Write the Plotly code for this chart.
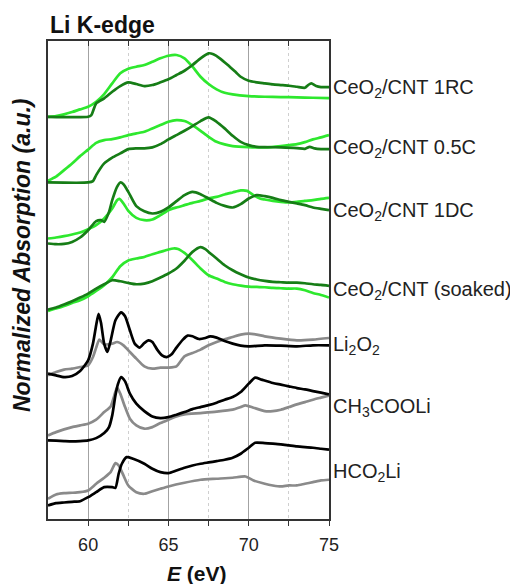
import plotly.graph_objects as go

# ---------------- data (E in eV, absorption in a.u. incl. vertical offsets) ----------------
E_1RC_dk = [57.5, 60.0, 60.2, 60.5, 61, 61.5, 62, 62.5, 63, 63.5, 64, 64.5, 65, 65.5, 66, 66.5, 67, 67.5, 67.8, 68.2,
            68.7, 69.2, 69.5, 70, 70.5, 71, 71.5, 72, 72.5, 73, 73.5, 73.7, 73.9, 74.2, 74.5, 75]
A_1RC_dk = [401.8, 401.8, 403.5, 415.2, 420.2, 426.8, 432.5, 436.2, 434.5, 432.5, 433.5, 436.2, 439.2, 443.5, 447.8,
            453.5, 460.2, 465.2, 464.2, 460.2, 453.5, 446.2, 441.8, 437.8, 436.2, 435.2, 434.2, 433.5, 432.8, 431.8,
            430.8, 433.5, 435.2, 432.5, 431.5, 431.5]

E_1RC_lt = [57.5, 58, 58.5, 59, 59.5, 60, 60.5, 61, 61.5, 62, 62.5, 63, 63.5, 64, 64.5, 65, 65.5, 66, 66.5, 67, 67.5,
            68, 68.5, 69, 70, 71, 72, 73, 74, 75]
A_1RC_lt = [401.8, 402.5, 404.2, 406.5, 409.2, 411.8, 416.8, 424.5, 435.2, 445.2, 449.8, 451.8, 453.5, 456.8, 460.2,
            462.8, 463.5, 460.2, 451.8, 441.8, 434.5, 429.2, 425.8, 424.2, 422.5, 421.8, 421.5, 421.2, 420.8, 420.5]

E_05C_dk = [57.5, 60, 60.3, 60.5, 61, 61.5, 62, 62.5, 63, 63.5, 64, 64.5, 65, 65.5, 66, 66.5, 67, 67.5, 68, 68.5, 69,
            69.5, 70, 70.5, 71, 72, 73, 73.5, 73.8, 74.1, 74.5, 75]
A_05C_dk = [336.2, 336.2, 337.5, 343.5, 355.2, 361, 365.2, 369.5, 370.2, 370.2, 371.2, 374.5, 379.2, 383.5, 387.8,
            392.5, 397.5, 401.2, 396.8, 390.2, 382.8, 376.8, 373.5, 371.8, 371.5, 371.2, 370.5, 369.8, 371.8, 370.2,
            369.5, 369.5]

E_05C_lt = [57.5, 58, 58.5, 59, 59.5, 60, 60.5, 61, 61.5, 62, 62.5, 63, 63.5, 64, 64.5, 65, 65.5, 66, 66.5, 67, 67.5,
            68, 68.5, 69, 70, 71, 72, 72.5, 73, 73.5, 74, 74.5, 75]
A_05C_lt = [338, 342, 348.5, 355.2, 362.5, 369, 375.8, 378.5, 379.5, 381.2, 383.5, 385.2, 386.8, 390.2, 393.5, 396.8,
            398.5, 397.5, 393.5, 387.8, 381.8, 376.8, 374.2, 372.5, 371.5, 371.2, 372.5, 373.5, 374.5, 376.5, 379.2,
            381.2, 383.5]

E_1DC_dk = [57.5, 58, 58.5, 59, 59.5, 60, 60.5, 60.8, 61, 61.3, 61.5, 61.8, 62, 62.2, 62.5, 63, 63.5, 64, 64.5, 65,
            65.5, 66, 66.5, 67, 67.5, 68, 68.5, 69, 69.5, 70, 70.5, 71, 71.5, 72, 72.5, 73, 73.5, 74, 74.5, 75]
A_1DC_dk = [275.2, 274.5, 274.8, 276.8, 281.2, 288.5, 297.5, 298.5, 296.8, 306.8, 318.5, 331.8, 336.2, 334.5, 326.8,
            312.5, 307.5, 305.2, 306.8, 311.2, 317.5, 323.5, 326.8, 324.5, 320.2, 315.8, 312.8, 311.2, 314.5, 320.2,
            323.5, 322.5, 320.8, 318.5, 316.8, 315.2, 313.5, 311.2, 309.8, 308.5]

E_1DC_lt = [57.5, 58, 58.5, 59, 59.5, 60, 60.5, 61, 61.5, 61.8, 61.95, 62.2, 62.5, 63, 63.5, 64, 64.5, 65, 65.5, 66,
            66.5, 67, 67.5, 68, 68.5, 69, 69.5, 69.9, 70.3, 70.7, 71, 71.5, 72, 72.5, 73, 73.5, 74, 74.5, 75]
A_1DC_lt = [280.2, 281.2, 282.5, 284.2, 286.2, 289.5, 293.5, 300.2, 310.2, 318.5, 319.8, 315.2, 307.8, 300.8, 298.5,
            299.2, 303.5, 308.5, 311.2, 313.5, 315.8, 317.8, 320.2, 321.8, 324.2, 326.2, 328.2, 327.8, 323.5, 320.2,
            319.2, 317.8, 316.8, 316.2, 316.8, 317.8, 318.5, 319.8, 320.8]

E_soak_dk = [57.5, 58, 58.5, 59, 59.5, 60, 60.5, 61, 61.5, 62, 62.5, 63, 63.5, 64, 64.5, 65, 65.5, 66, 66.5, 67, 67.3,
             67.5, 68, 68.5, 69, 69.5, 70, 70.5, 71, 71.5, 72, 72.5, 73, 73.5, 74, 74.5, 75]
A_soak_dk = [209.2, 211.2, 214.2, 217.5, 221.2, 225.2, 230.2, 234.5, 238.5, 237.5, 235.8, 234.5, 235.2, 237.5, 241.2,
             245.2, 250.2, 258, 266.8, 271.5, 269.5, 266.8, 260.2, 253.5, 248.5, 244.5, 241.2, 239.2, 237.8, 236.8,
             236.5, 236.2, 236.2, 235.5, 234.5, 233.8, 232.8]

E_soak_lt = [57.5, 58, 58.5, 59, 59.5, 60, 60.5, 61, 61.5, 62, 62.5, 63, 63.5, 64, 64.5, 65, 65.3, 65.6, 66, 66.5, 67,
             67.5, 68, 68.5, 69, 69.5, 70, 70.5, 71, 71.5, 72, 72.5, 73, 73.5, 74, 74.5, 75]
A_soak_lt = [207.8, 210.2, 212.8, 215.8, 218.5, 222.5, 227.8, 233.5, 241.5, 252.5, 258.2, 260.2, 261.8, 264.5, 266.8,
             269.2, 270.2, 269.8, 265.8, 258.5, 250.2, 243.5, 240.2, 236.8, 234.5, 233.2, 232.2, 231.8, 231.5, 230.8,
             230.5, 230.2, 230.2, 228.5, 225.8, 223.8, 221.2]

E_Li2O2_bk = [57.5, 58, 58.5, 59, 59.5, 60, 60.3, 60.5, 60.65, 60.8, 61, 61.2, 61.4, 61.7, 62.05, 62.3, 62.6, 62.9,
              63.2, 63.5, 63.75, 64, 64.3, 64.6, 64.9, 65.2, 65.5, 65.9, 66.2, 66.5, 66.9, 67.3, 67.6, 68, 68.5, 69,
              69.5, 70, 71, 72, 73, 74, 75]
A_Li2O2_bk = [145.2, 143.5, 141.8, 142.8, 147.8, 158.5, 175.2, 193.5, 205.0, 196.0, 175.0, 167.0, 178.0, 198.5, 206.5,
              202.5, 188.5, 175.2, 171.2, 175.8, 178.5, 176.8, 169.2, 163.5, 161.8, 164.5, 171.2, 179.2, 183.2, 182.5,
              179.8, 180.8, 182.5, 181.2, 177.8, 175.2, 173.2, 172.5, 173.5, 173.2, 172.5, 173.5, 173.5]

E_Li2O2_gy = [57.5, 58, 58.5, 59, 59.5, 60, 60.3, 60.5, 60.7, 61, 61.5, 61.8, 62.2, 62.6, 63, 63.5, 64, 64.5, 65, 65.5,
              66, 66.5, 67, 67.5, 68, 68.5, 69, 69.5, 70, 70.5, 71, 72, 73, 74, 75]
A_Li2O2_gy = [143.5, 146.8, 149.2, 150.2, 151.8, 153.5, 161.8, 171.2, 179.2, 174.5, 175.2, 176.8, 173.5, 166.8, 160.2,
              152.5, 150.2, 151.2, 151.2, 152.5, 162.5, 165.8, 169.2, 173.5, 176.8, 179.5, 181.8, 184.2, 185.2, 184.2,
              182.5, 180.2, 178.5, 179.2, 180.8]

E_ac_bk = [57.5, 58, 58.5, 59, 59.5, 60, 60.5, 61, 61.3, 61.5, 61.7, 61.85, 62.05, 62.3, 62.6, 63, 63.5, 64, 64.5, 65,
           65.5, 66, 66.5, 67, 67.5, 68, 68.5, 69, 69.5, 70, 70.4, 70.8, 71.5, 72, 72.5, 73, 73.5, 74, 74.5, 75]
A_ac_bk = [78.5, 78.2, 77.8, 77.5, 77.8, 78.5, 80.8, 85.8, 91.8, 103.5, 123.5, 134.5, 141.8, 137.5, 125.2, 115.2,
           107.8, 102.5, 100.8, 101.8, 104.2, 106.8, 109.8, 111.8, 113.8, 116.2, 119.2, 121.8, 126.8, 135.2, 141.2,
           139.2, 135.8, 134.2, 132.5, 130.8, 129.5, 127.8, 126.2, 124.5]

E_ac_gy = [57.5, 58, 58.5, 59, 59.5, 60, 60.5, 61, 61.4, 61.6, 61.8, 62.0, 62.3, 62.6, 63, 63.5, 64, 64.5, 65, 65.5,
           66, 67, 68, 69, 69.5, 69.8, 70.3, 71, 71.5, 72, 72.5, 73, 73.5, 74, 74.5, 75]
A_ac_gy = [83.5, 86.8, 89.5, 91.8, 93.5, 95.2, 99.2, 106.8, 112.5, 121.8, 131.2, 125.2, 111.8, 100.2, 93.5, 90.2, 91.8,
           95.8, 99.2, 102.5, 104.5, 105.8, 107.2, 109.2, 111.8, 113.5, 111.2, 107.8, 107.8, 109.2, 111.8, 114.5,
           116.8, 119.2, 121.2, 123.2]

E_fo_bk = [57.5, 58, 58.5, 59, 59.5, 60, 60.5, 61, 61.5, 61.7, 61.9, 62.1, 62.4, 62.8, 63.5, 64, 64.5, 65, 65.5, 66,
           66.5, 67, 67.5, 68, 68.5, 69, 69.5, 70, 70.4, 71, 71.5, 72, 72.5, 73, 73.5, 74, 74.5, 75]
A_fo_bk = [13.5, 15.8, 16.5, 17.2, 17.8, 21.8, 26.8, 31.8, 31.8, 31.2, 45.2, 55.2, 61.8, 60.2, 55.2, 50.2, 46.8, 45.8,
           48.5, 51.2, 53.5, 55.2, 56.5, 57.8, 59.2, 61.2, 65.2, 71.2, 76.2, 75.8, 75.2, 74.5, 73.5, 72.5, 71.8, 71.2,
           70.2, 69.2]

E_fo_gy = [57.5, 58, 58.5, 59, 59.5, 60, 60.5, 61, 61.4, 61.7, 61.9, 62.2, 62.5, 63, 63.5, 64, 64.5, 65, 66, 67, 68,
           69, 69.8, 70.3, 71, 71.5, 72, 72.5, 73, 73.5, 74, 74.5, 75]
A_fo_gy = [20.2, 24.5, 25.8, 26.2, 26.8, 28.5, 35.2, 41.2, 46.8, 55.8, 53.5, 43.5, 33.5, 26.8, 25.2, 27.8, 30.2, 32.5,
           36.2, 39.2, 40.2, 41.2, 42.5, 38.5, 35.2, 33.5, 32.5, 33.5, 33.5, 35.2, 36.8, 38.5, 39.2]

sample_labels = ["CeO<sub>2</sub>/CNT 1RC", "CeO<sub>2</sub>/CNT 0.5C", "CeO<sub>2</sub>/CNT 1DC",
                 "CeO<sub>2</sub>/CNT (soaked)", "Li<sub>2</sub>O<sub>2</sub>", "CH<sub>3</sub>COOLi",
                 "HCO<sub>2</sub>Li"]
label_levels = [430.5, 370.5, 306.8, 228.5, 173.5, 111.8, 46.8]

x_ticks = [60, 65, 70, 75]
x_minor = [62.5, 67.5, 72.5]

DARK = "#167d16"
LIGHT = "#2ee82e"
BLACK = "#000000"
GRAY = "#8a8a8a"
FONT = "Liberation Sans, Arial, sans-serif"

series = [
    (E_1RC_lt, A_1RC_lt, LIGHT), (E_1RC_dk, A_1RC_dk, DARK),
    (E_05C_lt, A_05C_lt, LIGHT), (E_05C_dk, A_05C_dk, DARK),
    (E_1DC_lt, A_1DC_lt, LIGHT), (E_1DC_dk, A_1DC_dk, DARK),
    (E_soak_lt, A_soak_lt, LIGHT), (E_soak_dk, A_soak_dk, DARK),
    (E_Li2O2_gy, A_Li2O2_gy, GRAY), (E_Li2O2_bk, A_Li2O2_bk, BLACK),
    (E_ac_gy, A_ac_gy, GRAY), (E_ac_bk, A_ac_bk, BLACK),
    (E_fo_gy, A_fo_gy, GRAY), (E_fo_bk, A_fo_bk, BLACK),
]

fig = go.Figure()
for ex, ay, col in series:
    fig.add_trace(go.Scatter(x=ex, y=ay, mode="lines", line=dict(color=col, width=2.7, shape="spline", smoothing=0.6),
                             showlegend=False, hoverinfo="skip"))

# empty trace to activate the top (inside-tick) axis
fig.add_trace(go.Scatter(x=[], y=[], xaxis="x2", showlegend=False, hoverinfo="skip"))

x_range = [57.5, 75]
fig.update_layout(
    width=510, height=576,
    margin=dict(l=40, r=189, t=33, b=65),
    paper_bgcolor="white", plot_bgcolor="white",
    font=dict(family=FONT, color="#222222"),
    xaxis=dict(
        range=x_range, tickvals=x_ticks, ticks="outside", ticklen=5, tickwidth=1.3, tickcolor="#333",
        tickfont=dict(size=18, color="#222"), ticklabelstandoff=4,
        showgrid=True, gridcolor="#a3a3a3", gridwidth=1,
        showline=True, linecolor="#333", linewidth=1.6, mirror=True, zeroline=False,
        minor=dict(tickvals=x_minor, ticks="outside", ticklen=5, tickwidth=1.3, tickcolor="#333",
                   showgrid=True, gridcolor="#cfcfcf", griddash="dot", gridwidth=1),
    ),
    xaxis2=dict(
        range=x_range, overlaying="x", side="top", anchor="y",
        tickvals=x_ticks[:-1] + x_minor, ticks="inside", ticklen=5, tickwidth=1.3, tickcolor="#333",
        showticklabels=False, showgrid=False, showline=False, zeroline=False,
    ),
    yaxis=dict(
        range=[0, 477.5], showticklabels=False, ticks="", showgrid=False, zeroline=False,
        showline=True, linecolor="#333", linewidth=1.6, mirror=True,
    ),
)

ann = []
for txt, lv in zip(sample_labels, label_levels):
    ann.append(dict(x=1, xref="paper", y=lv, yref="y", text=txt, showarrow=False, xanchor="left",
                    yanchor="middle", xshift=2, font=dict(size=20, color="#222", family=FONT)))
ann.append(dict(x=0, xref="paper", y=1, yref="paper", text="<b>Li K-edge</b>", showarrow=False,
                xanchor="left", yanchor="middle", xshift=0, yshift=16, font=dict(size=23, color="#111", family=FONT)))
ann.append(dict(x=0, xref="paper", y=0.5, yref="paper", text="<b><i>Normalized Absorption (a.u.)</i></b>",
                showarrow=False, textangle=-90, xanchor="center", yanchor="middle", xshift=-26, yshift=25,
                font=dict(size=23, color="#111", family=FONT)))
ann.append(dict(x=0.5, xref="paper", y=0, yref="paper", text="<b><i>E</i> (eV)</b>", showarrow=False,
                xanchor="center", yanchor="middle", xshift=8, yshift=-54, font=dict(size=21, color="#111", family=FONT)))
fig.update_layout(annotations=ann)

fig.write_html("out.html")
